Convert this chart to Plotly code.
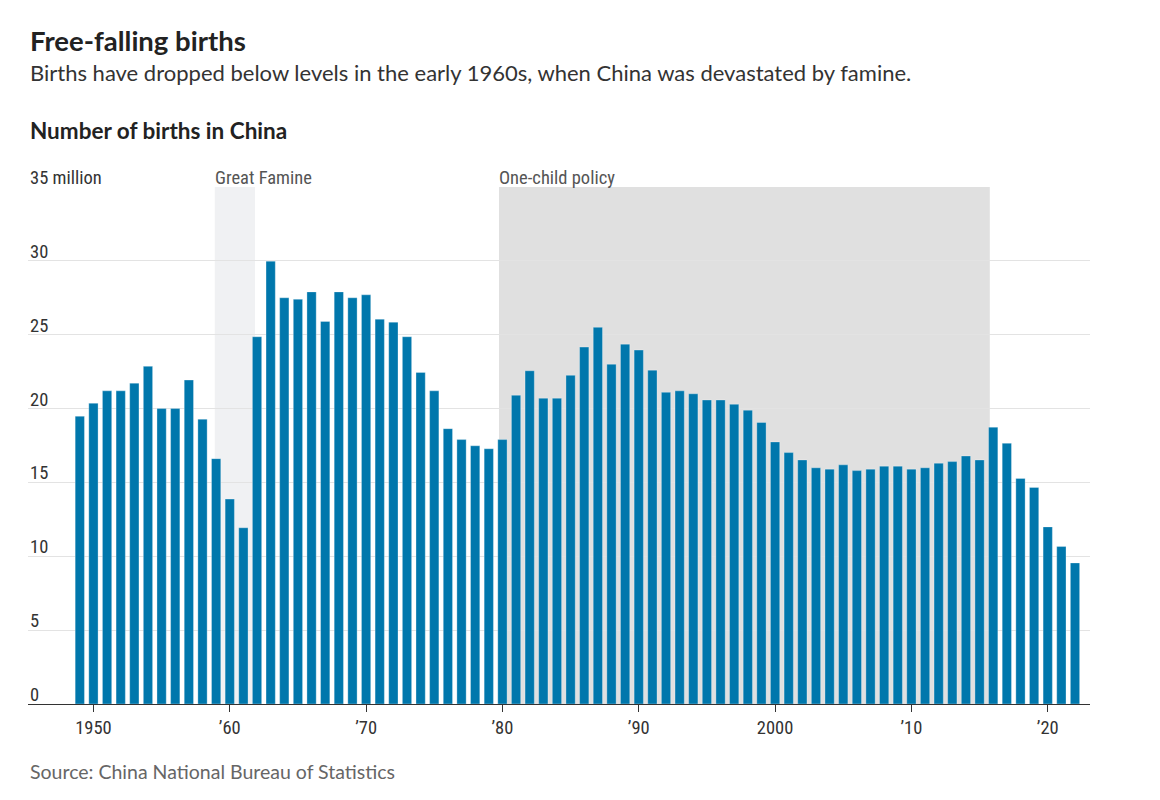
import plotly.graph_objects as go

years = list(range(1949, 2023))
births = [
    19.48, 20.36, 21.2, 21.2, 21.72, 22.86, 20.0, 20.0, 21.93, 19.28,  # 1949-1958
    16.61, 13.87, 11.93, 24.86, 29.98, 27.5, 27.4, 27.9, 25.9, 27.9,   # 1959-1968
    27.5, 27.7, 26.05, 25.85, 24.86, 22.45, 21.2, 18.64, 17.9, 17.48,  # 1969-1978
    17.28, 17.9, 20.9, 22.56, 20.7, 20.7, 22.25, 24.16, 25.5, 23.0,    # 1979-1988
    24.36, 23.96, 22.6, 21.1, 21.2, 21.0, 20.58, 20.58, 20.29, 19.89,  # 1989-1998
    19.06, 17.74, 17.02, 16.52, 15.99, 15.9, 16.19, 15.8, 15.9, 16.1,  # 1999-2008
    16.1, 15.9, 15.99, 16.3, 16.41, 16.79, 16.52, 18.74, 17.65, 15.27, # 2009-2018
    14.66, 11.99, 10.66, 9.55                                          # 2019-2022
]
x_tickvals = [1950, 1960, 1970, 1980, 1990, 2000, 2010, 2020]
x_ticktext = ["1950", "\u201960", "\u201970", "\u201980", "\u201990", "2000", "\u201910", "\u201920"]
y_tickvals = [0, 5, 10, 15, 20, 25, 30, 35]
y_ticktext = ["0", "5", "10", "15", "20", "25", "30", "35 million"]
periods = [("Great Famine", 1958.9, 1961.85, "#f0f1f3"),
           ("One-child policy", 1979.75, 2015.75, "#e0e0e0")]

NARROW = "Liberation Sans Narrow, Roboto Condensed, Arial Narrow, sans-serif"
SANS = "Lato, Roboto, sans-serif"

fig = go.Figure()
fig.add_trace(go.Bar(
    x=years, y=births, width=0.68,
    marker=dict(color="#0077ac", line=dict(color="rgba(255,255,255,0.5)", width=0.6)),
    hoverinfo="x+y",
))

shapes = []
annotations = []
for name, x0, x1, col in periods:
    shapes.append(dict(type="rect", xref="x", yref="y", x0=x0, x1=x1, y0=0, y1=35,
                       fillcolor=col, line=dict(width=0), layer="below"))
    annotations.append(dict(text=name, xref="x", yref="y", x=x0, y=35, xanchor="left",
                            yanchor="bottom", showarrow=False, xshift=-2, yshift=-4,
                            font=dict(family=NARROW, size=18.5, color="#555555")))

for v, t in zip(y_tickvals, y_ticktext):
    annotations.append(dict(text=t, xref="paper", yref="y", x=0, y=v, xanchor="left",
                            yanchor="bottom", showarrow=False, yshift=-4,
                            font=dict(family=NARROW, size=18.5, color="#333333")))

H = 800.0
plot_h = 800 - 187 - 96
def py(pix):
    return (H - 96 - pix) / plot_h

annotations += [
    dict(text="<b>Free-falling births</b>", xref="paper", yref="paper", x=0, y=py(41),
         xanchor="left", yanchor="middle", showarrow=False, xshift=0,
         font=dict(family=SANS, size=27.5, color="#222222")),
    dict(text="Births have dropped below levels in the early 1960s, when China was devastated by famine.",
         xref="paper", yref="paper", x=0, y=py(73), xanchor="left", yanchor="middle",
         showarrow=False, xshift=0, font=dict(family=SANS, size=22, color="#333333")),
    dict(text="<b>Number of births in China</b>", xref="paper", yref="paper", x=0, y=py(130),
         xanchor="left", yanchor="middle", showarrow=False, xshift=0,
         font=dict(family=SANS, size=22.5, color="#222222")),
    dict(text="Source: China National Bureau of Statistics", xref="paper", yref="paper",
         x=0, y=py(771), xanchor="left", yanchor="middle", showarrow=False, xshift=0,
         font=dict(family=SANS, size=19.5, color="#666666")),
]

fig.update_layout(
    width=1160, height=800,
    margin=dict(l=28, r=70, t=187, b=96),
    plot_bgcolor="white", paper_bgcolor="white",
    showlegend=False,
    xaxis=dict(range=[1945.2, 2023.1], tickvals=x_tickvals, ticktext=x_ticktext,
               ticks="outside", ticklen=7, tickcolor="#333333", tickwidth=1.2,
               showline=True, linecolor="#333333", linewidth=1.3,
               showgrid=False, zeroline=False,
               tickfont=dict(family=NARROW, size=18.5, color="#333333")),
    yaxis=dict(range=[0, 35], tickvals=y_tickvals, showticklabels=False,
               showgrid=True, gridcolor="#e3e3e3", gridwidth=1.2, zeroline=False),
    shapes=shapes,
    annotations=annotations,
)

fig.write_html("out.html")
